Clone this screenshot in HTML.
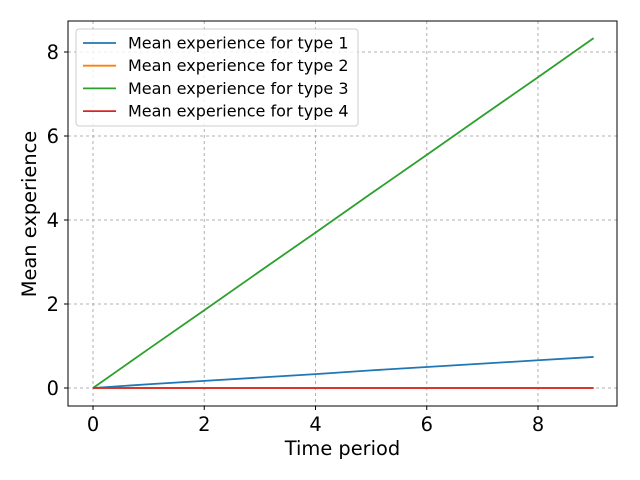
<!DOCTYPE html>
<html><head><meta charset="utf-8"><style>
body{margin:0;background:#fff;}
svg{font-family:"DejaVu Sans","Liberation Sans",sans-serif;display:block}
</style></head><body>
<svg id="chart" width="640" height="480"></svg>
<script>
const xs=[0,1,2,3,4,5,6,7,8,9];
const type1=[0,0.09,0.17,0.25,0.33,0.42,0.5,0.58,0.66,0.74];
const type2=[0,0,0,0,0,0,0,0,0,0];
const type3=[0,0.93,1.85,2.78,3.7,4.63,5.55,6.48,7.4,8.33];
const type4=[0,0,0,0,0,0,0,0,0,0];
const xTicks=[0,2,4,6,8];
const yTicks=[0,2,4,6,8];
const seriesNames=["Mean experience for type 1","Mean experience for type 2","Mean experience for type 3","Mean experience for type 4"];
const colors=["#1f77b4","#ff7f0e","#2ca02c","#d62728"];
const L=68,R=617,T=21,B=406;
const sx=v=>93+v*(538-93)/8;
const sy=v=>388-v*(388-52)/8;
const svg=document.getElementById('chart');
const NS="http://www.w3.org/2000/svg";
function mk(tag,attrs,text){const e=document.createElementNS(NS,tag);for(const k in attrs)e.setAttribute(k,attrs[k]);if(text!==undefined)e.textContent=text;svg.appendChild(e);return e;}
xTicks.forEach(t=>{
 const g=mk('line',{x1:sx(t),x2:sx(t),y1:T,y2:B,stroke:'#b0b0b0','stroke-dasharray':'3,3','stroke-width':1});
 
 
 mk('line',{x1:sx(t),x2:sx(t),y1:B,y2:B+4,stroke:'#000'});
 const l=mk('text',{x:sx(t),y:B+25,'text-anchor':'middle','font-size':19.4},t);
 
 
});
yTicks.forEach(t=>{
 const g=mk('line',{x1:L,x2:R,y1:sy(t),y2:sy(t),stroke:'#b0b0b0','stroke-dasharray':'3,3','stroke-width':1});
 
 
 mk('line',{x1:L-4,x2:L,y1:sy(t),y2:sy(t),stroke:'#000'});
 const l=mk('text',{x:L-9,y:sy(t)+7,'text-anchor':'end','font-size':19.4},t);
 
 
});
[type1,type2,type3,type4].forEach((s,i)=>{
 const p=mk('polyline',{points:s.map((v,j)=>sx(xs[j])+','+sy(v)).join(' '),fill:'none',stroke:colors[i],'stroke-width':1.8});
 
 
});
const fr=mk('rect',{x:L,y:T,width:R-L,height:B-T,fill:'none',stroke:'#000','stroke-width':1});


const xt=mk('text',{x:(L+R)/2,y:455,'text-anchor':'middle','font-size':19.4},'Time period');


const yt=mk('text',{x:0,y:0,'text-anchor':'middle','font-size':19.4,transform:'translate(36,214) rotate(-90)'},'Mean experience');


const lg=mk('rect',{x:76,y:29,width:282,height:97,rx:3,fill:'#fff','fill-opacity':0.8,stroke:'#ccc'});


seriesNames.forEach((n,i)=>{
 const y=43+i*22.7;
 mk('line',{x1:83,x2:116,y1:y,y2:y,stroke:colors[i],'stroke-width':1.8});
 const t=mk('text',{x:128,y:y+5.5,'font-size':16},n);
 
 
});
</script>
</body></html>
